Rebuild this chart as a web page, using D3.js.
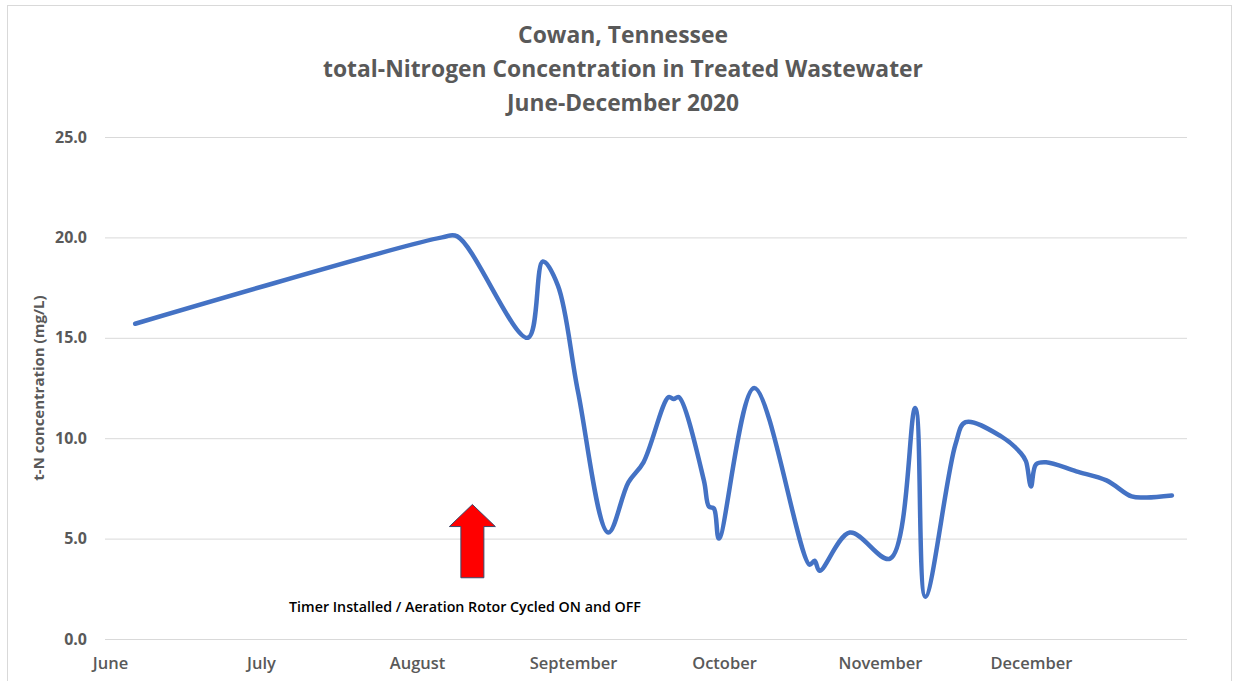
<!DOCTYPE html>
<html lang="en">

<head>
  <meta charset="UTF-8" />
  <title>Cowan t-N</title>
  <script src="https://cdn.jsdelivr.net/npm/d3@7/dist/d3.min.js"></script>
  <style>
    body { margin: 0; background: #fff; overflow: hidden; }
    svg { display: block; }
    text { font-family: "Open Sans", "Noto Sans", sans-serif; }
  </style>
</head>

<body>
  <svg id="svg"></svg>
</body>

<script>
  // sample dates and t-N values (mg/L)
  const dates = [
    "2020-06-06", "2020-08-06", "2020-08-09", "2020-08-23", "2020-08-26", "2020-08-29",
    "2020-09-02", "2020-09-08", "2020-09-12", "2020-09-15", "2020-09-20", "2020-09-21",
    "2020-09-22", "2020-09-27", "2020-09-28", "2020-09-29", "2020-09-30", "2020-10-07",
    "2020-10-18", "2020-10-19", "2020-10-20", "2020-10-26", "2020-11-03", "2020-11-08",
    "2020-11-10", "2020-11-16", "2020-11-18", "2020-11-25", "2020-11-29", "2020-11-30",
    "2020-12-01", "2020-12-02", "2020-12-04", "2020-12-10", "2020-12-16", "2020-12-21",
    "2020-12-24", "2020-12-29"
  ];
  const values = [
    15.7, 20.0, 20.05, 15.0, 18.8, 17.6,
    12.3, 5.3, 7.8, 8.8, 12.05, 11.95,
    12.05, 7.9, 6.6, 6.5, 5.0, 12.5,
    3.7, 3.9, 3.4, 5.3, 4.0, 11.5,
    2.1, 9.7, 10.8, 10.1, 9.25, 8.85,
    7.6, 8.7, 8.8, 8.35, 7.9, 7.1,
    7.05, 7.15
  ];

  const yTicks = [0, 5, 10, 15, 20, 25];
  const monthStarts = ["2020-06-01", "2020-07-01", "2020-08-01", "2020-09-01", "2020-10-01", "2020-11-01", "2020-12-01"];
  const monthLabels = ["June", "July", "August", "September", "October", "November", "December"];
  const titleLines = [
    "Cowan, Tennessee",
    "total-Nitrogen Concentration in Treated Wastewater",
    "June-December 2020"
  ];
  const yAxisLabel = "t-N concentration (mg/L)";
  const note = "Timer Installed / Aeration Rotor Cycled ON and OFF";
  // arrow: date and value for tip / head base / tail
  const arrowDate = "2020-08-12";
  const arrowLevels = [6.7, 5.6, 3.05];

  const width = 1234;
  const height = 681;
  const margin = { top: 137, right: 47, bottom: 42, left: 105 };
  const innerWidth = width - margin.left - margin.right;
  const innerHeight = height - margin.top - margin.bottom;

  const parse = d3.timeParse("%Y-%m-%d");
  const data = dates.map((d, i) => ({ date: parse(d), value: values[i] }));
  const monthTicks = monthStarts.map(parse);

  const svg = d3.select("#svg").attr("width", width).attr("height", height);

  // shrink a text's font size until it is no wider than the target width
  function fitWidth(sel, target) {
    sel.each(function () {
      const size = parseFloat(this.getAttribute("font-size"));
      const w = this.getComputedTextLength();
      if (w > target) this.setAttribute("font-size", (size * target / w).toFixed(2));
    });
  }

  // chart area border
  svg.append("rect")
    .attr("x", 7.5).attr("y", 5.5)
    .attr("width", width - 10).attr("height", height - 4)
    .attr("fill", "none")
    .attr("stroke", "#d9d9d9");

  const xScale = d3.scaleTime()
    .domain([parse("2020-05-31"), parse("2021-01-01")])
    .range([0, innerWidth]);

  const yScale = d3.scaleLinear()
    .domain([0, 25])
    .range([innerHeight, 0]);

  const g = svg.append("g")
    .attr("transform", `translate(${margin.left}, ${margin.top})`);

  // title
  const titleWidths = [210, 600, 232];
  svg.append("g")
    .selectAll("text")
    .data(titleLines)
    .join("text")
    .attr("x", 623)
    .attr("y", (d, i) => 43 + i * 34)
    .attr("text-anchor", "middle")
    .attr("font-size", 24)
    .attr("font-weight", "bold")
    .attr("fill", "#595959")
    .text(d => d)
    .each(function (d, i) { fitWidth(d3.select(this), titleWidths[i]); });

  // y axis with gridlines
  const yAxis = d3.axisLeft(yScale)
    .tickValues(yTicks)
    .tickSize(-innerWidth)
    .tickPadding(18)
    .tickFormat(d3.format(".1f"));

  const yAxisGroup = g.append("g").call(yAxis);
  yAxisGroup.select(".domain").remove();
  yAxisGroup.selectAll(".tick line").attr("stroke", "#d9d9d9");
  yAxisGroup.selectAll(".tick text")
    .attr("font-size", 16)
    .attr("font-weight", "bold")
    .attr("fill", "#595959");

  g.append("text")
    .attr("transform", "rotate(-90)")
    .attr("x", -(388 - margin.top))
    .attr("y", 44 - margin.left)
    .attr("text-anchor", "middle")
    .attr("font-size", 15)
    .attr("font-weight", "bold")
    .attr("fill", "#595959")
    .text(yAxisLabel)
    .call(fitWidth, 200);

  // x axis: month names
  const xAxis = d3.axisBottom(xScale)
    .tickValues(monthTicks)
    .tickSize(0)
    .tickPadding(18)
    .tickFormat((d, i) => monthLabels[i]);

  const xAxisGroup = g.append("g")
    .attr("transform", `translate(0, ${innerHeight})`)
    .call(xAxis);
  xAxisGroup.select(".domain").remove();
  xAxisGroup.selectAll(".tick text")
    .attr("font-size", 16.5)
    .attr("font-weight", 600)
    .attr("fill", "#595959");

  // arrow annotation
  const ax = xScale(parse(arrowDate));
  const [tipY, headY, tailY] = arrowLevels.map(yScale);
  const arrowPts = [
    [ax, tipY], [ax + 23, headY], [ax + 11.5, headY], [ax + 11.5, tailY],
    [ax - 11.5, tailY], [ax - 11.5, headY], [ax - 23, headY]
  ];
  g.append("polygon")
    .attr("points", arrowPts.map(p => p.join(",")).join(" "))
    .attr("fill", "#ff0000")
    .attr("stroke", "#3b4a6b")
    .attr("stroke-width", 1);

  g.append("text")
    .attr("x", 465 - margin.left)
    .attr("y", 612 - margin.top)
    .attr("text-anchor", "middle")
    .attr("font-size", 14.5)
    .attr("font-weight", 600)
    .attr("fill", "#000")
    .text(note)
    .call(fitWidth, 352);

  // smoothed line
  const line = d3.line()
    .x(d => xScale(d.date))
    .y(d => yScale(d.value))
    .curve(d3.curveCatmullRom.alpha(0.5));

  g.append("path")
    .datum(data)
    .attr("d", line)
    .attr("fill", "none")
    .attr("stroke", "#4472c4")
    .attr("stroke-width", 4.5)
    .attr("stroke-linejoin", "round")
    .attr("stroke-linecap", "round");
</script>

</html>
